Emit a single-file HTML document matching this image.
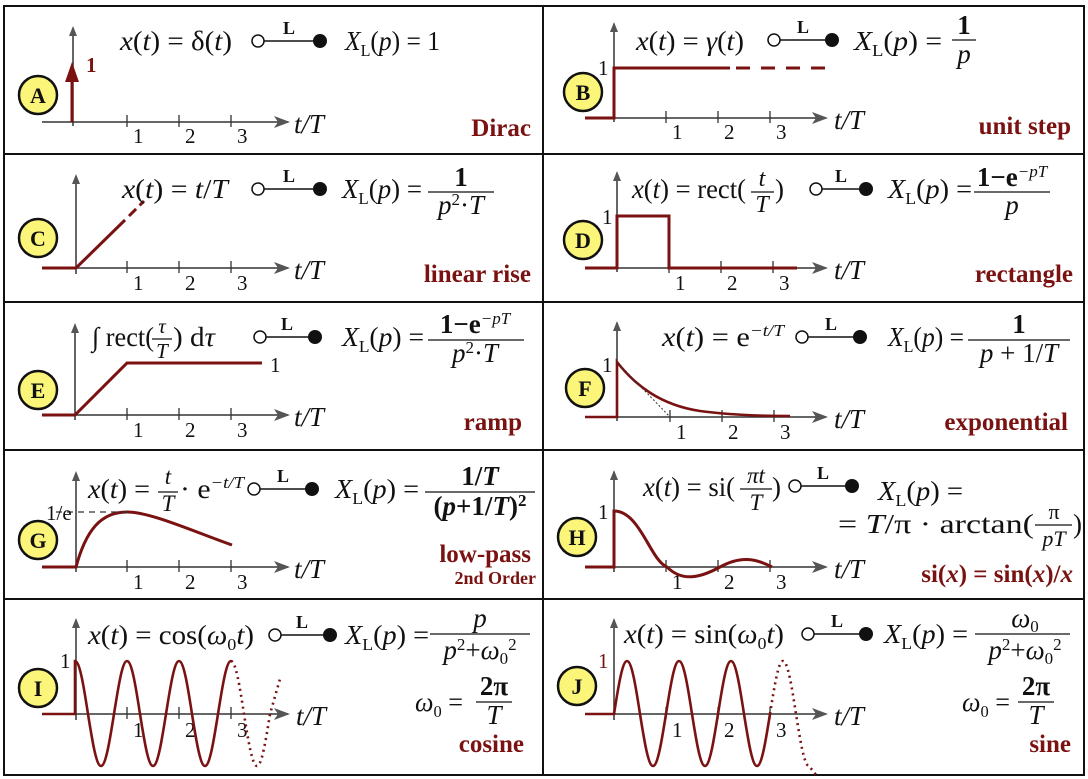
<!DOCTYPE html>
<html><head><meta charset="utf-8"><style>
html,body{margin:0;padding:0;background:#fff}
svg{display:block}
text{font-family:"Liberation Serif",serif;fill:#111}
.f{font-size:27px}
.i{font-style:italic}
.s{font-size:17px}
.lab text{font-size:25px;font-weight:bold;fill:#7a1212}
.num{font-size:21px}
.L{font-size:18px;font-weight:bold}
.c{font-size:22px;font-weight:bold}
.ax{stroke:#333;stroke-width:1.5;fill:none}
.r{stroke:#7a1212;stroke-width:3;fill:none}
</style></head><body>
<svg width="1088" height="779" viewBox="0 0 1088 779" xmlns="http://www.w3.org/2000/svg">
<defs>
<marker id="ar" markerWidth="10" markerHeight="12" refX="8" refY="5" orient="auto" markerUnits="userSpaceOnUse" viewBox="0 0 10 10"><path d="M0,1 L10,5 L0,9 z" fill="#555"/></marker>
<marker id="ar2" markerWidth="16" markerHeight="14" refX="14" refY="7" orient="auto" markerUnits="userSpaceOnUse" viewBox="0 0 16 14"><path d="M0,1 L16,7 L0,13 L4,7 z" fill="#555"/></marker>
</defs>
<g stroke="#111" stroke-width="2" fill="none">
<rect x="4" y="6" width="1080" height="769"/>
<line x1="543" y1="6" x2="543" y2="775"/>
<line x1="4" y1="154" x2="1084" y2="154"/>
<line x1="4" y1="302" x2="1084" y2="302"/>
<line x1="4" y1="450" x2="1084" y2="450"/>
<line x1="4" y1="599" x2="1084" y2="599"/>
</g>

<g class="ax">
<line x1="73" y1="126" x2="73" y2="28" marker-end="url(#ar)"/><line x1="42" y1="122" x2="288" y2="122" marker-end="url(#ar2)"/>
<line x1="76" y1="274" x2="76" y2="176" marker-end="url(#ar)"/><line x1="42" y1="268" x2="288" y2="268" marker-end="url(#ar2)"/>
<line x1="75" y1="420" x2="75" y2="325" marker-end="url(#ar)"/><line x1="42" y1="415" x2="288" y2="415" marker-end="url(#ar2)"/>
<line x1="76" y1="572" x2="76" y2="473" marker-end="url(#ar)"/><line x1="42" y1="567" x2="288" y2="567" marker-end="url(#ar2)"/>
<line x1="76" y1="720" x2="76" y2="620" marker-end="url(#ar)"/><line x1="42" y1="714" x2="288" y2="714" marker-end="url(#ar2)"/>
<line x1="614" y1="122" x2="614" y2="24" marker-end="url(#ar)"/><line x1="585" y1="118" x2="826" y2="118" marker-end="url(#ar2)"/>
<line x1="617" y1="272" x2="617" y2="173" marker-end="url(#ar)"/><line x1="585" y1="268" x2="826" y2="268" marker-end="url(#ar2)"/>
<line x1="617" y1="421" x2="617" y2="323" marker-end="url(#ar)"/><line x1="585" y1="417" x2="826" y2="417" marker-end="url(#ar2)"/>
<line x1="614" y1="572" x2="614" y2="472" marker-end="url(#ar)"/><line x1="585" y1="567" x2="826" y2="567" marker-end="url(#ar2)"/>
<line x1="614" y1="720" x2="614" y2="620" marker-end="url(#ar)"/><line x1="585" y1="714" x2="826" y2="714" marker-end="url(#ar2)"/>
</g>
<g stroke="#333" stroke-width="1.3">
<path d="M127,115v12M179,115v12M231,115v12 M127,261v12M179,261v12M231,261v12 M127,408v12M179,408v12M231,408v12 M127,560v12M179,560v12M231,560v12 M127,707v12M179,707v12M231,707v12"/>
<path d="M666,111v12M718,111v12M770,111v12 M669,261v12M721,261v12M773,261v12 M670,410v12M722,410v12M774,410v12 M666,560v12M718,560v12M770,560v12 M666,707v12M718,707v12M770,707v12"/>
</g>
<g class="num">
<text x="133" y="143">1</text><text x="185" y="143">2</text><text x="237" y="143">3</text>
<text x="133" y="290">1</text><text x="185" y="290">2</text><text x="237" y="290">3</text>
<text x="133" y="437">1</text><text x="185" y="437">2</text><text x="237" y="437">3</text>
<text x="133" y="589">1</text><text x="185" y="589">2</text><text x="237" y="589">3</text>
<text x="133" y="737">1</text><text x="185" y="737">2</text><text x="237" y="737">3</text>
<text x="672" y="139">1</text><text x="724" y="139">2</text><text x="776" y="139">3</text>
<text x="675" y="290">1</text><text x="727" y="290">2</text><text x="779" y="290">3</text>
<text x="676" y="439">1</text><text x="728" y="439">2</text><text x="780" y="439">3</text>
<text x="672" y="589">1</text><text x="724" y="589">2</text><text x="776" y="589">3</text>
<text x="672" y="737">1</text><text x="724" y="737">2</text><text x="776" y="737">3</text>
</g>
<g class="f i">
<text x="294" y="133">t/T</text><text x="294" y="279">t/T</text><text x="294" y="426">t/T</text><text x="294" y="578">t/T</text><text x="296" y="725">t/T</text>
<text x="834" y="129">t/T</text><text x="834" y="279">t/T</text><text x="834" y="428">t/T</text><text x="834" y="578">t/T</text><text x="834" y="725">t/T</text>
</g>

<g fill="#fbf57a" stroke="#111" stroke-width="2.5">
<circle cx="38" cy="95" r="19"/><circle cx="38" cy="238" r="19"/><circle cx="38" cy="390" r="19"/><circle cx="38" cy="540" r="19"/><circle cx="38" cy="688" r="19"/>
<circle cx="583" cy="92" r="19"/><circle cx="583" cy="240" r="19"/><circle cx="585" cy="388" r="19"/><circle cx="577" cy="537" r="19"/><circle cx="577" cy="686" r="19"/>
</g>
<g class="c" text-anchor="middle">
<text x="38" y="103">A</text><text x="38" y="246">C</text><text x="38" y="398">E</text><text x="38" y="548">G</text><text x="38" y="696">I</text>
<text x="583" y="100">B</text><text x="583" y="248">D</text><text x="585" y="396">F</text><text x="577" y="545">H</text><text x="577" y="694">J</text>
</g>

<g class="r">
<line x1="72" y1="122" x2="72" y2="76"/>
<path d="M585,118H614V68H730"/><path d="M736,68H830" stroke-dasharray="14,11"/>
<path d="M42,268H76L125,220"/><path d="M129,216L144,201" stroke-dasharray="10,5"/>
<path d="M585,268H617V216H669V268H797"/>
<path d="M42,415H75L127,363H262"/>
<path d="M585,417H617V362C635,385 660,405 700,411C730,415 760,416 790,416" stroke-width="2.6"/>
<path d="M42,567H76C86,530 101,512 127,512C150,512 190,530 232,545"/>
<path d="M585,567H614V511C640,511 650,560 667,567C682,582 700,578 720,567C740,556 755,558 772,567"/>
<path d="M42,714H75V661 c4.7,0 8.76,25.4 13,53 c4.24,26.6 8.3,52 13,52 c4.7,0 8.76,-25.4 13,-52 c4.24,-26.6 8.3,-53 13,-53 c4.7,0 8.76,25.4 13,53 c4.24,26.6 8.3,52 13,52 c4.7,0 8.76,-25.4 13,-52 c4.24,-26.6 8.3,-53 13,-53 c4.7,0 8.76,25.4 13,53 c4.24,26.6 8.3,52 13,52 c4.7,0 8.76,-25.4 13,-52 c4.24,-26.6 8.3,-53 13,-53" stroke-width="2.6"/>
<path d="M231,661 c4.7,0 8.76,25.4 13,53 c4.24,26.6 8.3,52 13,52 c4.7,0 8.76,-25.4 13,-52 l10,-35" stroke-width="2.6" stroke-dasharray="2,4"/>
<path d="M585,714H614 c4.24,-26.6 8.3,-53 13,-53 c4.7,0 8.76,25.4 13,53 c4.24,26.6 8.3,52 13,52 c4.7,0 8.76,-25.4 13,-52 c4.24,-26.6 8.3,-53 13,-53 c4.7,0 8.76,25.4 13,53 c4.24,26.6 8.3,52 13,52 c4.7,0 8.76,-25.4 13,-52 c4.24,-26.6 8.3,-53 13,-53 c4.7,0 8.76,25.4 13,53 c4.24,26.6 8.3,52 13,52 c4.7,0 8.76,-25.4 13,-52" stroke-width="2.6"/>
<path d="M770,714 c4.24,-26.6 8.3,-53 13,-53 c4.7,0 8.76,25.4 13,53 c4.24,26.6 8.3,52 13,52 l8,10" stroke-width="2.6" stroke-dasharray="2,4"/>
</g>
<path d="M65,82L72,62L79,82z" fill="#7a1212"/>
<line x1="617" y1="362" x2="670" y2="417" stroke="#333" stroke-width="1" stroke-dasharray="2,2"/>
<line x1="56" y1="512" x2="127" y2="512" stroke="#333" stroke-width="1.3" stroke-dasharray="6,5"/>
<g class="num">
<text x="86" y="72" font-weight="bold" style="fill:#7a1212">1</text>
<text x="598" y="75">1</text><text x="602" y="224">1</text><text x="270" y="372">1</text><text x="602" y="372">1</text>
<text x="46" y="520">1/e</text><text x="598" y="519">1</text><text x="60" y="668">1</text><text x="598" y="668" style="fill:#7a1212">1</text>
</g>

<g stroke="#111" stroke-width="1.5">
<line x1="258" y1="41" x2="320" y2="41"/><line x1="774" y1="40" x2="832" y2="40"/>
<line x1="258" y1="189" x2="320" y2="189"/><line x1="816" y1="189" x2="866" y2="189"/>
<line x1="260" y1="337" x2="315" y2="337"/><line x1="802" y1="337" x2="860" y2="337"/>
<line x1="254" y1="489" x2="312" y2="489"/><line x1="795" y1="486" x2="852" y2="486"/>
<line x1="275" y1="635" x2="330" y2="635"/><line x1="808" y1="634" x2="866" y2="634"/>
</g>
<g fill="#fff" stroke="#111" stroke-width="1.5">
<circle cx="258" cy="41" r="6"/><circle cx="774" cy="40" r="6"/><circle cx="258" cy="189" r="6"/><circle cx="816" cy="189" r="6"/>
<circle cx="260" cy="337" r="6"/><circle cx="802" cy="337" r="6"/><circle cx="254" cy="489" r="6"/><circle cx="795" cy="486" r="6"/>
<circle cx="275" cy="635" r="6"/><circle cx="808" cy="634" r="6"/>
</g>
<g fill="#111">
<circle cx="320" cy="41" r="7"/><circle cx="832" cy="40" r="7"/><circle cx="320" cy="189" r="7"/><circle cx="866" cy="189" r="7"/>
<circle cx="315" cy="337" r="7"/><circle cx="860" cy="337" r="7"/><circle cx="312" cy="489" r="7"/><circle cx="852" cy="486" r="7"/>
<circle cx="330" cy="635" r="7"/><circle cx="866" cy="634" r="7"/>
</g>
<g class="L" text-anchor="middle">
<text x="289" y="34">L</text><text x="803" y="33">L</text><text x="289" y="182">L</text><text x="841" y="182">L</text>
<text x="287" y="330">L</text><text x="831" y="330">L</text><text x="283" y="482">L</text><text x="823" y="479">L</text>
<text x="302" y="628">L</text><text x="837" y="627">L</text>
</g>

<g stroke="#111" stroke-width="1.3">
<line x1="952" y1="40" x2="976" y2="40"/><line x1="428" y1="192" x2="494" y2="192"/><line x1="974" y1="192" x2="1050" y2="192"/>
<line x1="428" y1="340" x2="524" y2="340"/><line x1="968" y1="340" x2="1070" y2="340"/><line x1="425" y1="492" x2="535" y2="492"/>
<line x1="430" y1="634" x2="530" y2="634"/><line x1="975" y1="634" x2="1070" y2="634"/>
<line x1="476" y1="702" x2="512" y2="702"/><line x1="1018" y1="702" x2="1054" y2="702"/>
<line x1="1035" y1="525" x2="1072" y2="525"/><line x1="152" y1="339" x2="172" y2="339"/><line x1="751" y1="192" x2="774" y2="192"/><line x1="158" y1="492" x2="178" y2="492"/><line x1="740" y1="489" x2="772" y2="489"/>
</g>

<g class="f">
<text x="120" y="50" textLength="112" lengthAdjust="spacingAndGlyphs"><tspan class="i">x</tspan>(<tspan class="i">t</tspan>) = δ(<tspan class="i">t</tspan>)</text>
<text x="345" y="50" textLength="95" lengthAdjust="spacingAndGlyphs"><tspan class="i">X</tspan><tspan class="s" dy="6">L</tspan><tspan dy="-6">(</tspan><tspan class="i">p</tspan>) = 1</text>

<text x="636" y="50" textLength="108" lengthAdjust="spacingAndGlyphs"><tspan class="i">x</tspan>(<tspan class="i">t</tspan>) = <tspan class="i">γ</tspan>(<tspan class="i">t</tspan>)</text>
<text x="854" y="50" textLength="88" lengthAdjust="spacingAndGlyphs"><tspan class="i">X</tspan><tspan class="s" dy="6">L</tspan><tspan dy="-6">(</tspan><tspan class="i">p</tspan>) =</text>
<text x="964" y="34" text-anchor="middle" font-weight="bold">1</text><text x="964" y="63" text-anchor="middle" class="i">p</text>

<text x="122" y="198" textLength="106" lengthAdjust="spacingAndGlyphs"><tspan class="i">x</tspan>(<tspan class="i">t</tspan>) = <tspan class="i">t</tspan>/<tspan class="i">T</tspan></text>
<text x="342" y="198" textLength="80" lengthAdjust="spacingAndGlyphs"><tspan class="i">X</tspan><tspan class="s" dy="6">L</tspan><tspan dy="-6">(</tspan><tspan class="i">p</tspan>) =</text>
<text x="461" y="186" text-anchor="middle" font-weight="bold">1</text><text x="461" y="214" text-anchor="middle"><tspan class="i">p</tspan><tspan class="s" dy="-9">2</tspan><tspan dy="9">·</tspan><tspan class="i">T</tspan></text>

<text x="632" y="198" textLength="114" lengthAdjust="spacingAndGlyphs"><tspan class="i">x</tspan>(<tspan class="i">t</tspan>) = rect(</text><text x="762" y="186" text-anchor="middle" class="i" font-size="24">t</text><text x="762" y="212" text-anchor="middle" class="i" font-size="24">T</text><text x="775" y="198">)</text>
<text x="888" y="198" textLength="84" lengthAdjust="spacingAndGlyphs"><tspan class="i">X</tspan><tspan class="s" dy="6">L</tspan><tspan dy="-6">(</tspan><tspan class="i">p</tspan>) =</text>
<text x="1012" y="186" text-anchor="middle"><tspan font-weight="bold">1−e</tspan><tspan class="s i" dy="-9">−pT</tspan></text><text x="1012" y="214" text-anchor="middle" class="i">p</text>

<text x="92" y="346" textLength="62" lengthAdjust="spacingAndGlyphs">∫ rect(</text><text x="162" y="333" text-anchor="middle" class="i" font-size="21">τ</text><text x="162" y="358" text-anchor="middle" class="i" font-size="21">T</text><text x="173" y="346" textLength="42" lengthAdjust="spacingAndGlyphs">) d<tspan class="i">τ</tspan></text>
<text x="342" y="346" textLength="82" lengthAdjust="spacingAndGlyphs"><tspan class="i">X</tspan><tspan class="s" dy="6">L</tspan><tspan dy="-6">(</tspan><tspan class="i">p</tspan>) =</text>
<text x="475" y="333" text-anchor="middle"><tspan font-weight="bold">1−e</tspan><tspan class="s i" dy="-9">−pT</tspan></text><text x="475" y="362" text-anchor="middle"><tspan class="i">p</tspan><tspan class="s" dy="-9">2</tspan><tspan dy="9">·</tspan><tspan class="i">T</tspan></text>

<text x="662" y="346" textLength="122" lengthAdjust="spacingAndGlyphs"><tspan class="i">x</tspan>(<tspan class="i">t</tspan>) = e<tspan class="s i" dy="-10">−t/T</tspan></text>
<text x="888" y="346" textLength="76" lengthAdjust="spacingAndGlyphs"><tspan class="i">X</tspan><tspan class="s" dy="6">L</tspan><tspan dy="-6">(</tspan><tspan class="i">p</tspan>) =</text>
<text x="1019" y="333" text-anchor="middle" font-weight="bold">1</text><text x="1019" y="362" text-anchor="middle"><tspan class="i">p</tspan> + 1/<tspan class="i">T</tspan></text>

<text x="88" y="498" textLength="62" lengthAdjust="spacingAndGlyphs"><tspan class="i">x</tspan>(<tspan class="i">t</tspan>) =</text><text x="168" y="484" text-anchor="middle" class="i" font-size="23">t</text><text x="168" y="511" text-anchor="middle" class="i" font-size="23">T</text><text x="180" y="498" textLength="64" lengthAdjust="spacingAndGlyphs">· e<tspan class="s i" dy="-10">−t/T</tspan></text>
<text x="335" y="498" textLength="84" lengthAdjust="spacingAndGlyphs"><tspan class="i">X</tspan><tspan class="s" dy="6">L</tspan><tspan dy="-6">(</tspan><tspan class="i">p</tspan>) =</text>
<text x="480" y="485" text-anchor="middle" font-weight="bold">1/<tspan class="i">T</tspan></text><text x="480" y="515" text-anchor="middle" font-weight="bold">(<tspan class="i">p</tspan>+1/<tspan class="i">T</tspan>)<tspan class="s" dy="-9">2</tspan></text>

<text x="643" y="496" textLength="92" lengthAdjust="spacingAndGlyphs"><tspan class="i">x</tspan>(<tspan class="i">t</tspan>) = si(</text><text x="756" y="483" text-anchor="middle" class="i" font-size="23">πt</text><text x="756" y="510" text-anchor="middle" class="i" font-size="23">T</text><text x="772" y="496">)</text>
<text x="878" y="500" textLength="85" lengthAdjust="spacingAndGlyphs"><tspan class="i">X</tspan><tspan class="s" dy="6">L</tspan><tspan dy="-6">(</tspan><tspan class="i">p</tspan>) =</text>
<text x="838" y="533" textLength="196" lengthAdjust="spacingAndGlyphs">= <tspan class="i">T</tspan>/π · arctan(</text><text x="1054" y="519" text-anchor="middle" font-size="22">π</text><text x="1054" y="546" text-anchor="middle" class="i" font-size="22">pT</text><text x="1073" y="533">)</text>

<text x="88" y="644" textLength="166" lengthAdjust="spacingAndGlyphs"><tspan class="i">x</tspan>(<tspan class="i">t</tspan>) = cos(<tspan class="i">ω</tspan><tspan class="s" dy="6">0</tspan><tspan class="i" dy="-6">t</tspan>)</text>
<text x="345" y="644" textLength="84" lengthAdjust="spacingAndGlyphs"><tspan class="i">X</tspan><tspan class="s" dy="6">L</tspan><tspan dy="-6">(</tspan><tspan class="i">p</tspan>) =</text>
<text x="480" y="627" text-anchor="middle" class="i">p</text><text x="480" y="659" text-anchor="middle"><tspan class="i">p</tspan><tspan class="s" dy="-9">2</tspan><tspan dy="9">+</tspan><tspan class="i">ω</tspan><tspan class="s" dy="5">0</tspan><tspan class="s" dy="-14">2</tspan></text>
<text x="415" y="711" textLength="48" lengthAdjust="spacingAndGlyphs"><tspan class="i">ω</tspan><tspan class="s" dy="6">0</tspan><tspan dy="-6"> =</tspan></text>
<text x="494" y="695" text-anchor="middle" font-weight="bold">2π</text><text x="494" y="724" text-anchor="middle" class="i">T</text>

<text x="624" y="643" textLength="160" lengthAdjust="spacingAndGlyphs"><tspan class="i">x</tspan>(<tspan class="i">t</tspan>) = sin(<tspan class="i">ω</tspan><tspan class="s" dy="6">0</tspan><tspan class="i" dy="-6">t</tspan>)</text>
<text x="884" y="643" textLength="84" lengthAdjust="spacingAndGlyphs"><tspan class="i">X</tspan><tspan class="s" dy="6">L</tspan><tspan dy="-6">(</tspan><tspan class="i">p</tspan>) =</text>
<text x="1025" y="627" text-anchor="middle"><tspan class="i">ω</tspan><tspan class="s" dy="5">0</tspan></text><text x="1025" y="659" text-anchor="middle"><tspan class="i">p</tspan><tspan class="s" dy="-9">2</tspan><tspan dy="9">+</tspan><tspan class="i">ω</tspan><tspan class="s" dy="5">0</tspan><tspan class="s" dy="-14">2</tspan></text>
<text x="962" y="711" textLength="48" lengthAdjust="spacingAndGlyphs"><tspan class="i">ω</tspan><tspan class="s" dy="6">0</tspan><tspan dy="-6"> =</tspan></text>
<text x="1036" y="695" text-anchor="middle" font-weight="bold">2π</text><text x="1036" y="724" text-anchor="middle" class="i">T</text>
</g>

<g class="lab" text-anchor="end">
<text x="531" y="136">Dirac</text><text x="531" y="282">linear rise</text><text x="522" y="430">ramp</text>
<text x="531" y="562">low-pass</text><text x="536" y="584" style="font-size:18px">2nd Order</text><text x="524" y="752">cosine</text>
<text x="1071" y="134">unit step</text><text x="1073" y="282">rectangle</text><text x="1068" y="430">exponential</text>
<text x="1073" y="582">si(<tspan font-style="italic">x</tspan>) = sin(<tspan font-style="italic">x</tspan>)/<tspan font-style="italic">x</tspan></text><text x="1071" y="752">sine</text>
</g>
</svg>
</body></html>
